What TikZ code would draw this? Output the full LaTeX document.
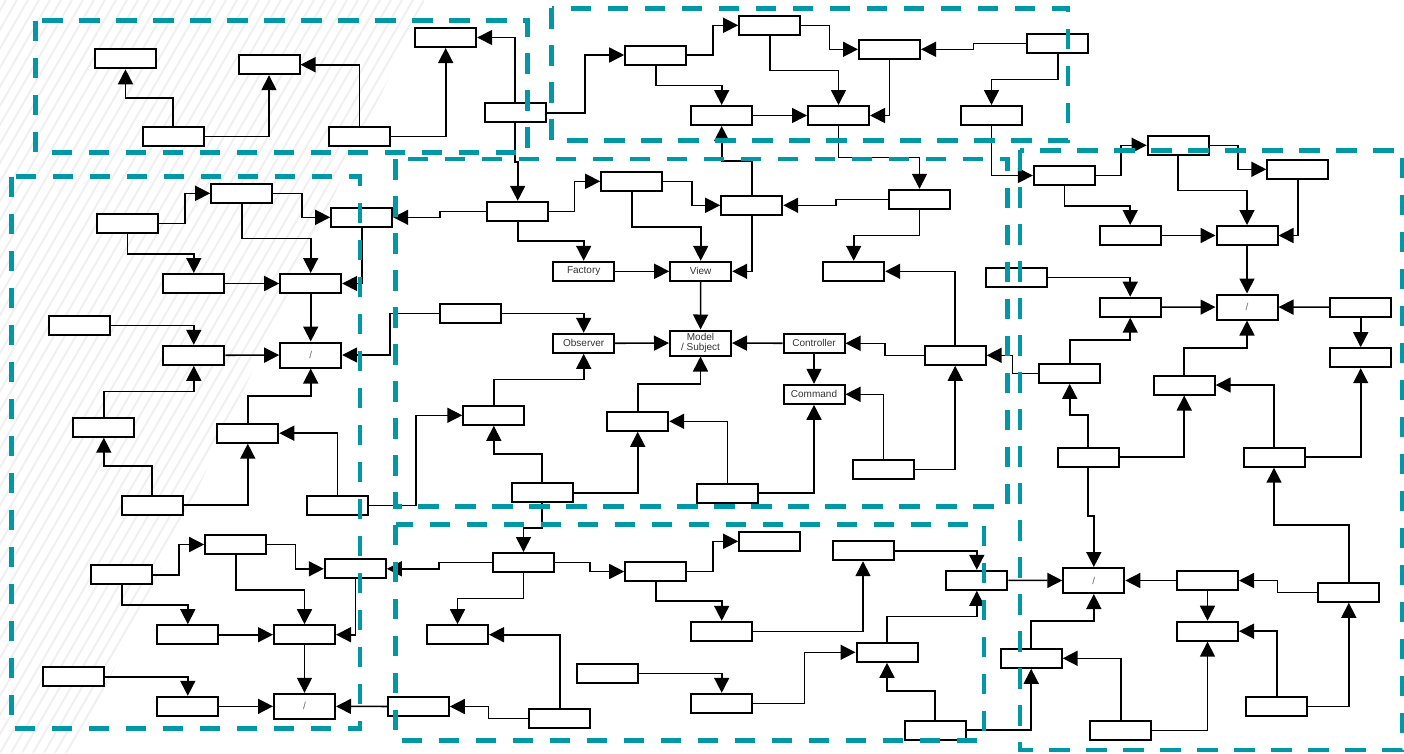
\documentclass[tikz,border=0pt]{standalone}
\usepackage{fontspec}
\setmainfont{Liberation Sans}
\usepackage{xcolor}
\usepackage{tikz}
\usetikzlibrary{arrows.meta}
\definecolor{frameteal}{HTML}{0097A7}
\definecolor{labelgray}{HTML}{333333}
\definecolor{slashgray}{HTML}{666666}
\definecolor{hatchgray}{HTML}{F0F0F0}

\tikzset{
  box/.style={draw, fill=white, line width=2pt, minimum width=61pt, minimum height=19pt,
              inner sep=0pt, text=labelgray, align=center, font=\fontsize{10}{10}\selectfont},
  tallbox/.style={box, minimum height=25pt},
  slashbox/.style={tallbox, text=slashgray},
  link/.style={line width=1.6pt, -{Triangle[length=15pt,width=15pt]}},
  groupframe/.style={draw=frameteal, line width=4.8pt, dash pattern=on 20.5pt off 16.5pt},
  hatch/.style={draw=hatchgray, line width=2pt}
}

\begin{document}
\begin{tikzpicture}[x=1pt, y=-1pt]
    \useasboundingbox (0,0) rectangle (1404,753);
    \begin{scope}
      \clip (0,0) -- (425,0) -- (75,753) -- (0,753) -- cycle;
      \foreach \s in {-440,-429,...,430}
        \draw[hatch] (\s,753) -- ++(435,-753);
    \end{scope}

    \node[box] (a1) at (125.5,58.8) {};
    \node[box] (a2) at (269,64.7) {};
    \node[box] (a3) at (173,136.5) {};
    \node[box] (a4) at (359.5,136.5) {};
    \node[box] (a5) at (445.7,37.5) {};
    \node[box] (a6) at (515,112.7) {};

    \node[box] (b1) at (655.7,55) {};
    \node[box] (b2) at (769.7,25.3) {};
    \node[box] (b3) at (889.5,49.3) {};
    \node[box] (b4) at (1057.7,43.3) {};
    \node[box] (b5) at (721.7,115.5) {};
    \node[box] (b6) at (838.5,115.5) {};
    \node[box] (b7) at (991.5,115.5) {};

    \node[box] (c1) at (517.7,211.3) {};
    \node[box] (c2) at (631.7,181.3) {};
    \node[box] (c3) at (751.7,205.3) {};
    \node[box] (c4) at (919.5,199.3) {};
    \node[box] (c5) at (853.7,271.3) {};
    \node[box] (factory) at (583.7,271.3) {Factory};
    \node[box] (view) at (700.7,271.3) {View};
    \node[box] (observer) at (583.7,343.3) {Observer};
    \node[tallbox] (model) at (700.5,343) {Model\\/ Subject};
    \node[box] (controller) at (814,343.3) {Controller};
    \node[box] (command) at (814,394.3) {Command};
    \node[box] (c6) at (470,313.3) {};
    \node[box] (c7) at (955.2,355.3) {};
    \node[box] (c8) at (883.5,469.3) {};
    \node[box] (c9) at (727.5,493) {};
    \node[box] (c10) at (637.7,421.3) {};
    \node[box] (c11) at (493.8,415.3) {};
    \node[box] (c12) at (542,492.8) {};

    \node[box] (d1) at (127.5,223.3) {};
    \node[box] (d2) at (241.7,193.3) {};
    \node[box] (d3) at (361.7,217.3) {};
    \node[box] (d4) at (193.8,283.5) {};
    \node[box] (d5) at (310.7,283.5) {};
    \node[slashbox] (d6) at (310.7,355) {/};
    \node[box] (d7) at (193.8,355.3) {};
    \node[box] (d8) at (79.8,325.3) {};
    \node[box] (d9) at (103.8,427.2) {};
    \node[box] (d10) at (247.8,433.2) {};
    \node[box] (d11) at (152,505) {};
    \node[box] (d12) at (337.5,505.5) {};
    \node[box] (d13) at (235.7,544.5) {};
    \node[box] (d14) at (121.8,574.7) {};
    \node[box] (d15) at (355.3,568.8) {};
    \node[box] (d16) at (187.8,634.7) {};
    \node[box] (d17) at (304.5,634.7) {};
    \node[box] (d18) at (73.8,676.7) {};
    \node[box] (d19) at (187.8,706.3) {};
    \node[slashbox] (d20) at (304.5,706.3) {/};

    \node[box] (e1) at (523.5,562.5) {};
    \node[box] (e2) at (655.7,571.5) {};
    \node[box] (e3) at (769.7,541.3) {};
    \node[box] (e4) at (721.7,631.3) {};
    \node[box] (e5) at (457.5,634.7) {};
    \node[box] (e6) at (418.3,706.5) {};
    \node[box] (e7) at (559.7,718.3) {};
    \node[box] (e8) at (863,550.7) {};
    \node[box] (e9) at (976.8,580.3) {};
    \node[box] (e10) at (607.5,673.5) {};
    \node[box] (e11) at (721.7,703.3) {};
    \node[box] (e12) at (887,652.3) {};
    \node[box] (e13) at (935,730.2) {};

    \node[box] (f1) at (1064.3,175.5) {};
    \node[box] (f2) at (1178.2,145.3) {};
    \node[box] (f3) at (1297.8,169.3) {};
    \node[box] (f4) at (1130.2,235.5) {};
    \node[box] (f5) at (1247,235.5) {};
    \node[box] (f6) at (1016,277.3) {};
    \node[box] (f7) at (1130.2,307.2) {};
    \node[slashbox] (f8) at (1247,307) {/};
    \node[box] (f9) at (1360.7,307.2) {};
    \node[box] (f10) at (1360.7,357.7) {};
    \node[box] (f11) at (1069.7,373.3) {};
    \node[box] (f12) at (1184.2,385) {};
    \node[box] (f13) at (1088,457.2) {};
    \node[box] (f14) at (1274,457.2) {};
    \node[slashbox] (f15) at (1093.8,580.5) {/};
    \node[box] (f16) at (1207.5,580.5) {};
    \node[box] (f17) at (1207.5,631.2) {};
    \node[box] (f18) at (1348.8,592.3) {};
    \node[box] (f19) at (1031.2,658.3) {};
    \node[box] (f20) at (1120.8,730.3) {};
    \node[box] (f21) at (1276.7,706.5) {};

    \draw[link] (a3.north) -- ++(0,-28.3) -| (a1.south);
    \draw[link] (a3.east) -| (a2.south);
    \draw[link] (a4.north) |- (a2.east);
    \draw[link] (a4.east) -| (a5.south);
    \draw[link] (a6.north) |- (a5.east);
    \draw[link] (a6.east) -- ++(38.5,0) |- (b1.west);
    \draw[link] (a6.south) -- ++(0,39) -| (c1.north);

    \draw[link] (b1.east) -- ++(25.5,0) |- (b2.west);
    \draw[link] (b2.east) -- ++(28.1,0) |- (b3.west);
    \draw[link] (b2.south) -- ++(0,34.5) -| (b6.north);
    \draw[link] (b3.south) |- (b6.east);
    \draw[link] (b4.west) -- ++(-52.9,0) |- (b3.east);
    \draw[link] (b4.south) -- ++(0,25.5) -| (b7.north);
    \draw[link] (b1.south) -- ++(0,19.8) -| (b5.north);
    \draw[link] (b5) -- (b6);
    \draw[link] (b6.south) -- ++(0,31.3) -| (c4.north);
    \draw[link] (b7.south) |- (f1.west);
    \draw[link] (c3.north) -- ++(0,-34.1) -| (b5.south);

    \draw[link] (c1.east) -- ++(25.3,0) |- (c2.west);
    \draw[link] (c1.south) -- ++(0,18.9) -| (factory.north);
    \draw[link] (c1.west) -- ++(-46.2,0) |- (d3.east);
    \draw[link] (c2.east) -- ++(28.5,0) |- (c3.west);
    \draw[link] (c2.south) -- ++(0,34.9) -| (view.north);
    \draw[link] (c3.south) |- (view.east);
    \draw[link] (c4.west) -- ++(-52.3,0) |- (c3.east);
    \draw[link] (c4.south) -- ++(0,25.5) -| (c5.north);
    \draw[link] (factory) -- (view);
    \draw[link] (view) -- (model);
    \draw[link] (observer) -- (model);
    \draw[link] (controller) -- (model);
    \draw[link] (controller) -- (command);
    \draw[link] (c6.east) -| (observer.north);
    \draw[link] (c6.west) -- ++(-48.5,0) |- (d6.east);
    \draw[link] (c7.west) -- ++(-38.7,0) |- (controller.east);
    \draw[link] (c7.north) |- (c5.east);
    \draw[link] (c8.north) |- (command.east);
    \draw[link] (c8.east) -| (c7.south);
    \draw[link] (f11.west) -- ++(-25.9,0) |- (c7.east);
    \draw[link] (c9.east) -| (command.south);
    \draw[link] (c9.north) |- (c10.east);
    \draw[link] (c10.north) -- ++(0,-27.1) -| (model.south);
    \draw[link] (c11.north) -- ++(0,-25.5) -| (observer.south);
    \draw[link] (c12.north) -- ++(0,-28.3) -| (c11.south);
    \draw[link] (c12.east) -| (c10.south);
    \draw[link] (d12.east) -- ++(47.2,0) |- (c11.west);
    \draw[link] (c12.south) -- ++(0,24.7) -| (e1.north);

    \draw[link] (d1.east) -- ++(25.8,0) |- (d2.west);
    \draw[link] (d2.east) -- ++(29,0) |- (d3.west);
    \draw[link] (d1.south) -- ++(0,20.2) -| (d4.north);
    \draw[link] (d2.south) -- ++(0,34.5) -| (d5.north);
    \draw[link] (d4) -- (d5);
    \draw[link] (d5) -- (d6);
    \draw[link] (d3.south) |- (d5.east);
    \draw[link] (d12.north) |- (d10.east);
    \draw[link] (d10.north) -- ++(0,-27) -| (d6.south);
    \draw[link] (d11.east) -| (d10.south);
    \draw[link] (d11.north) -- ++(0,-28.5) -| (d9.south);
    \draw[link] (d9.north) -- ++(0,-25.4) -| (d7.south);
    \draw[link] (d7) -- (d6);
    \draw[link] (d8.east) -| (d7.north);
    \draw[link] (d14.east) -- ++(25.5,0) |- (d13.west);
    \draw[link] (d13.east) -- ++(28.3,0) |- (d15.west);
    \draw[link] (d14.south) -- ++(0,19.5) -| (d16.north);
    \draw[link] (d13.south) -- ++(0,34.8) -| (d17.north);
    \draw[link] (d15.south) |- (d17.east);
    \draw[link] (d16) -- (d17);
    \draw[link] (d17) -- (d20);
    \draw[link] (d18.east) -| (d19.north);
    \draw[link] (d19) -- (d20);

    \draw[link] (e6) -- (d20);
    \draw[link] (e7.west) -- ++(-39.7,0) |- (e6.east);
    \draw[link] (e7.north) |- (e5.east);
    \draw[link] (e1.west) -- ++(-53.2,0) |- (d15.east);
    \draw[link] (e1.south) -- ++(0,25.3) -| (e5.north);
    \draw[link] (e1.east) -- ++(34.8,0) |- (e2.west);
    \draw[link] (e2.east) -- ++(25.5,0) |- (e3.west);
    \draw[link] (e2.south) -- ++(0,19) -| (e4.north);
    \draw[link] (e4.east) -| (e8.south);
    \draw[link] (e8.east) -| (e9.north);
    \draw[link] (e9) -- (f15);
    \draw[link] (e10.east) -| (e11.north);
    \draw[link] (e11.east) -- ++(51.3,0) |- (e12.west);
    \draw[link] (e12.north) -- ++(0,-25.5) -| (e9.south);
    \draw[link] (e13.north) -- ++(0,-28.7) -| (e12.south);
    \draw[link] (e13.east) -| (f19.south);

    \draw[link] (f1.east) -- ++(25.4,0) |- (f2.west);
    \draw[link] (f2.east) -- ++(28.3,0) |- (f3.west);
    \draw[link] (f1.south) -- ++(0,19.8) -| (f4.north);
    \draw[link] (f2.south) -- ++(0,34.5) -| (f5.north);
    \draw[link] (f3.south) |- (f5.east);
    \draw[link] (f4) -- (f5);
    \draw[link] (f5) -- (f8);
    \draw[link] (f6.east) -| (f7.north);
    \draw[link] (f7) -- (f8);
    \draw[link] (f9) -- (f8);
    \draw[link] (f9) -- (f10);
    \draw[link] (f11.north) -- ++(0,-22.8) -| (f7.south);
    \draw[link] (f12.north) -- ++(0,-26.8) -| (f8.south);
    \draw[link] (f13.north) -- ++(0,-32) -| (f11.south);
    \draw[link] (f13.east) -| (f12.south);
    \draw[link] (f14.north) |- (f12.east);
    \draw[link] (f14.east) -| (f10.south);
    \draw[link] (f13.south) -- ++(0,48) -| (f15.north);
    \draw[link] (f16) -- (f15);
    \draw[link] (f16) -- (f17);
    \draw[link] (f18.west) -- ++(-40,0) |- (f16.east);
    \draw[link] (f18.north) -- ++(0,-57.1) -| (f14.south);
    \draw[link] (f21.north) |- (f17.east);
    \draw[link] (f21.east) -| (f18.south);
    \draw[link] (f20.east) -| (f17.south);
    \draw[link] (f20.north) |- (f19.east);
    \draw[link] (f19.north) -- ++(0,-27.1) -| (f15.south);

    \draw[groupframe] (35.7,20.7) rectangle (527.7,152.7);
    \draw[groupframe] (551.7,8.3) rectangle (1068,140.7);
    \draw[groupframe] (395.7,159) rectangle (1007.7,506.7);
    \draw[groupframe] (11.7,176.7) rectangle (360,728.7);
    \draw[groupframe] (395.7,524.7) rectangle (984,740.7);
    \draw[groupframe] (1020,150.3) rectangle (1402.7,750);
  \end{tikzpicture}
\end{document}
